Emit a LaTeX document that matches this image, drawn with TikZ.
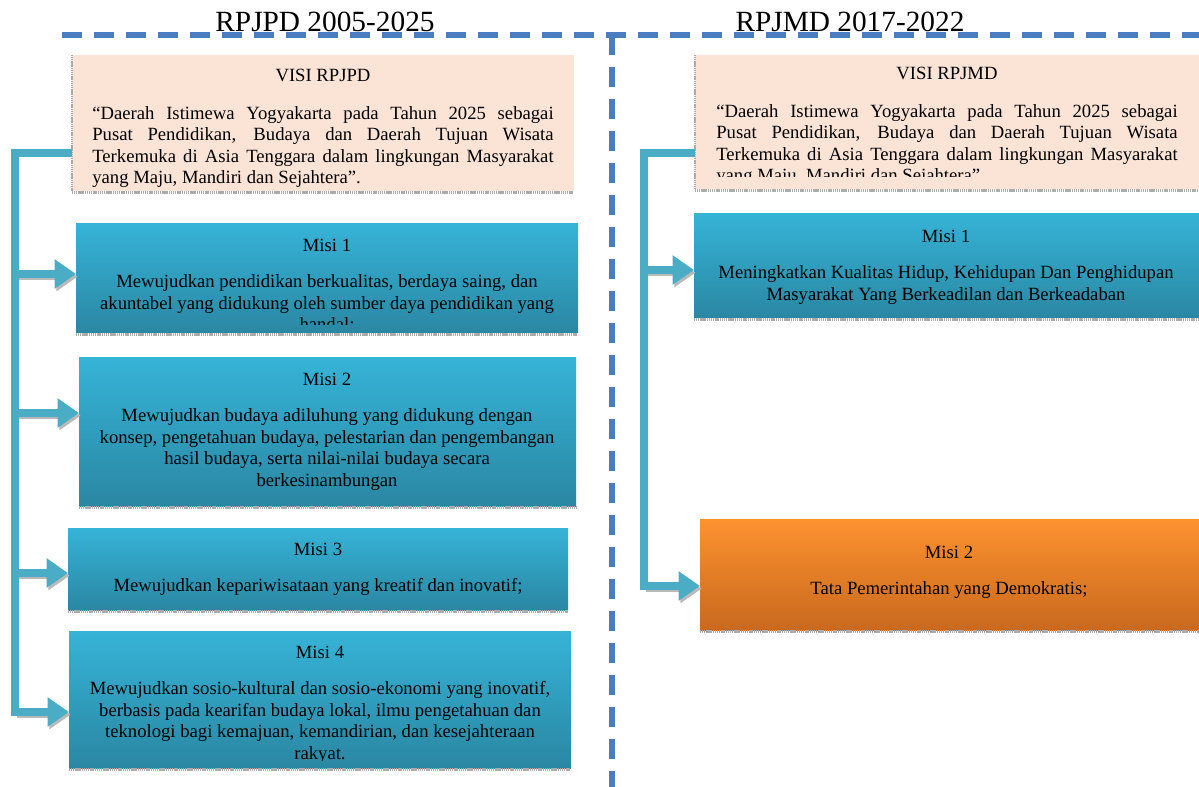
\documentclass[tikz,border=0pt]{standalone}
\usepackage{fontspec}
\setmainfont{Liberation Serif}
\usetikzlibrary{arrows.meta,fit}

\definecolor{visiFill}{HTML}{FBE3D6}
\definecolor{misiTop}{HTML}{36B3D7}
\definecolor{misiBot}{HTML}{2A87A3}
\definecolor{oranyeTop}{HTML}{FD922F}
\definecolor{oranyeBot}{HTML}{C9691E}
\definecolor{panah}{HTML}{4BACC6}
\definecolor{garis}{HTML}{4A7EC1}

\begin{document}
\begin{tikzpicture}[
  x=0.75pt, y=-0.75pt,
  kotak/.style={inner sep=0pt, outer sep=0pt},
  visi/.style={kotak, fill=visiFill},
  misi/.style={kotak, top color=misiTop, bottom color=misiBot},
  misio/.style={kotak, top color=oranyeTop, bottom color=oranyeBot},
  bayang/.style={draw=gray!65, line width=2.6pt, dash pattern=on 0.9pt off 0.5pt},
  bayangtipis/.style={bayang, line width=1pt},
  txt/.style={font=\fontsize{14}{16.1}\selectfont, align=center, inner sep=0pt, anchor=north},
  judul/.style={font=\fontsize{22}{26}\selectfont, inner sep=0pt, anchor=base},
  sekat/.style={draw=garis, line width=4pt, dash pattern=on 15pt off 9pt},
  batang/.style={draw=panah, line width=5.6pt},
  panahx/.style={batang, -{Triangle[length=16pt, width=21pt]}},
  panahbayang/.style={panahx, draw=gray!55, transform canvas={shift={(1.2pt,-2pt)}}}
]
\useasboundingbox (0,0) rectangle (1199,787);

% garis pemisah
\coordinate (gh1) at (62,35);
\coordinate (gh2) at (1199,35);
\coordinate (gv1) at (612,35);
\coordinate (gv2) at (612,787);
\draw[sekat] (gh1) -- (gh2);
\draw[sekat] (gv1) -- (gv2);

\node[judul] (jl) at (325,32) {RPJPD 2005-2025};
\node[judul] (jr) at (850,32) {RPJMD 2017-2022};

% kiri: RPJPD
\node[visi, fit={(72,55) (574,191)}] (vl) {};
\node[misi, fit={(76,224) (578,333)}] (ml1) {};
\node[misi, fit={(79,358) (576,506)}] (ml2) {};
\node[misi, fit={(68,528) (568,610)}] (ml3) {};
\node[misi, fit={(69,631) (571,768)}] (ml4) {};

\draw[bayang] ([yshift=-1.3pt]vl.south west) -- ([yshift=-1.3pt]vl.south east);
\draw[bayangtipis] (vl.north west) -- (vl.south west);
\draw[bayang] ([yshift=-1.3pt]ml1.south west) -- ([yshift=-1.3pt]ml1.south east);
\draw[bayang] ([yshift=-1.3pt]ml2.south west) -- ([yshift=-1.3pt]ml2.south east);
\draw[bayang] ([yshift=-1.3pt]ml3.south west) -- ([yshift=-1.3pt]ml3.south east);
\draw[bayang] ([yshift=-1.3pt]ml4.south west) -- ([yshift=-1.3pt]ml4.south east);

\node[txt] (vlj) at (323,69) {VISI RPJPD};
\node[txt, align=left] (vlt) at (323,106) {%
\makebox[346pt][s]{“Daerah Istimewa Yogyakarta pada Tahun 2025 sebagai}\\
\makebox[346pt][s]{Pusat Pendidikan, Budaya dan Daerah Tujuan Wisata}\\
\makebox[346pt][s]{Terkemuka di Asia Tenggara dalam lingkungan Masyarakat}\\
yang Maju, Mandiri dan Sejahtera”.};

\begin{scope}
\clip (76,224) rectangle (578,325);
\node[txt] (tl1) at (327,239) {Misi 1\\[11pt]
Mewujudkan pendidikan berkualitas, berdaya saing, dan\\
akuntabel yang didukung oleh sumber daya pendidikan yang\\
handal;};
\end{scope}
\node[txt] (tl2) at (327,373) {Misi 2\\[11pt]
Mewujudkan budaya adiluhung yang didukung dengan\\
konsep, pengetahuan budaya, pelestarian dan pengembangan\\
hasil budaya, serta nilai-nilai budaya secara\\
berkesinambungan};
\node[txt] (tl3) at (318,543) {Misi 3\\[11pt]
Mewujudkan kepariwisataan yang kreatif dan inovatif;};
\begin{scope}
\clip (69,631) rectangle (571,760);
\node[txt] (tl4) at (320,646) {Misi 4\\[11pt]
Mewujudkan sosio-kultural dan sosio-ekonomi yang inovatif,\\
berbasis pada kearifan budaya lokal, ilmu pengetahuan dan\\
teknologi bagi kemajuan, kemandirian, dan kesejahteraan\\
rakyat.};
\end{scope}

% kanan: RPJMD
\node[visi, fit={(695,55) (1199,189)}] (vr) {};
\node[misi, fit={(694,214) (1199,318)}] (mr1) {};
\node[misio, fit={(700,519) (1199,630)}] (mr2) {};

\draw[bayang] ([yshift=-1.3pt]vr.south west) -- ([yshift=-1.3pt]vr.south east);
\draw[bayangtipis] (vr.north west) -- (vr.south west);
\draw[bayang] ([yshift=-1.3pt]mr1.south west) -- ([yshift=-1.3pt]mr1.south east);
\draw[bayang] ([yshift=-1.3pt]mr2.south west) -- ([yshift=-1.3pt]mr2.south east);

\node[txt] (vrj) at (947,67) {VISI RPJMD};
\begin{scope}
\clip (695,55) rectangle (1199,177);
\node[txt, align=left] (vrt) at (947,104) {%
\makebox[346pt][s]{“Daerah Istimewa Yogyakarta pada Tahun 2025 sebagai}\\
\makebox[346pt][s]{Pusat Pendidikan, Budaya dan Daerah Tujuan Wisata}\\
\makebox[346pt][s]{Terkemuka di Asia Tenggara dalam lingkungan Masyarakat}\\
yang Maju, Mandiri dan Sejahtera”};
\end{scope}
\node[txt] (tr1) at (946,230) {Misi 1\\[11pt]
Meningkatkan Kualitas Hidup, Kehidupan Dan Penghidupan\\
Masyarakat Yang Berkeadilan dan Berkeadaban};
\node[txt] (tr2) at (949,546) {Misi 2\\[11pt]
Tata Pemerintahan yang Demokratis;};

% panah
\coordinate (kl) at (15,153);
\coordinate (kl1) at (15,274);
\coordinate (kl2) at (15,413);
\coordinate (kl3) at (15,573);
\coordinate (kl4) at (15,712);
\draw[panahbayang] (kl1) -- (kl1 -| ml1.west);
\draw[panahbayang] (kl2) -- (kl2 -| ml2.west);
\draw[panahbayang] (kl3) -- (kl3 -| ml3.west);
\draw[panahbayang] (kl4) -- (kl4 -| ml4.west);
\draw[panahx] (vl.west |- kl) -- (kl) -- (kl4) -- (kl4 -| ml4.west);
\draw[panahx] (kl1) -- (kl1 -| ml1.west);
\draw[panahx] (kl2) -- (kl2 -| ml2.west);
\draw[panahx] (kl3) -- (kl3 -| ml3.west);

\coordinate (kr) at (644,153);
\coordinate (kr1) at (644,270);
\coordinate (kr2) at (644,586);
\draw[panahbayang] (kr1) -- (kr1 -| mr1.west);
\draw[panahbayang] (kr2) -- (kr2 -| mr2.west);
\draw[panahx] (vr.west |- kr) -- (kr) -- (kr2) -- (kr2 -| mr2.west);
\draw[panahx] (kr1) -- (kr1 -| mr1.west);
\end{tikzpicture}
\end{document}
